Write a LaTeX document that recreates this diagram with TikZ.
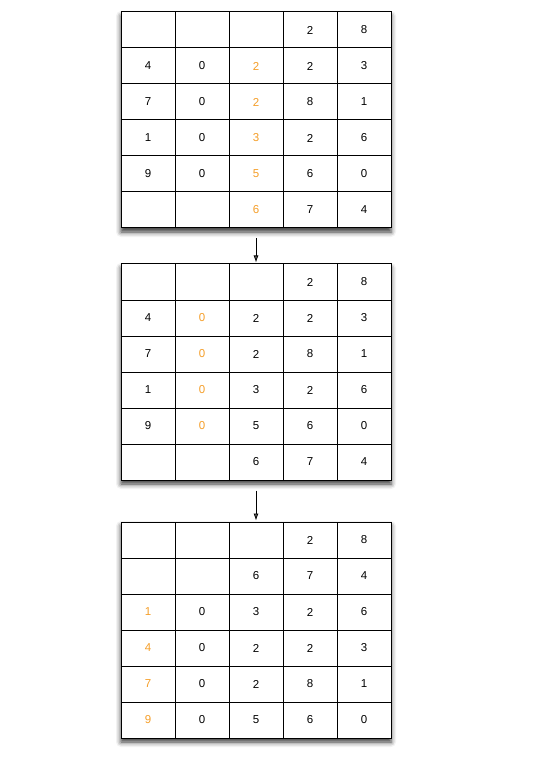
\documentclass[tikz,border=0pt]{standalone}
\usepackage{fontspec}
\setmainfont{Liberation Sans}
\usetikzlibrary{shadows.blur,arrows.meta}
\definecolor{hlorange}{RGB}{245,158,40}
\newcommand\hlc[1]{\textcolor{hlorange}{#1}}
\tikzset{
  cell/.style={draw=black, line width=1pt, minimum width=54pt, minimum height=36pt, inner sep=0pt, font=\fontsize{11.5}{13}\selectfont},
  tablebg/.style={fill=white, blur shadow={shadow xshift=0pt, shadow yshift=-4pt, shadow blur radius=5pt, shadow opacity=80}},
  flow/.style={line width=0.8pt, -{Latex[length=7pt,width=5pt]}, shorten >=1pt}
}
\newcommand\cellrow[8]{%
  \node[cell] (#1-#2-1) at (148,#3) {#4};
  \node[cell] (#1-#2-2) at (202,#3) {#5};
  \node[cell] (#1-#2-3) at (256,#3) {#6};
  \node[cell] (#1-#2-4) at (310,#3) {#7};
  \node[cell] (#1-#2-5) at (364,#3) {#8};
}
\begin{document}
\begin{tikzpicture}[x=1pt,y=-1pt]
\useasboundingbox (0,0) rectangle (559,783);
% table 1
\path[tablebg] (121,12) rectangle (391,228);
\cellrow{t1}{1}{30}{}{}{}{2}{8}
\cellrow{t1}{2}{66}{4}{0}{\hlc{2}}{2}{3}
\cellrow{t1}{3}{102}{7}{0}{\hlc{2}}{8}{1}
\cellrow{t1}{4}{138}{1}{0}{\hlc{3}}{2}{6}
\cellrow{t1}{5}{174}{9}{0}{\hlc{5}}{6}{0}
\cellrow{t1}{6}{210}{}{}{\hlc{6}}{7}{4}
% table 2
\path[tablebg] (121,264) rectangle (391,480);
\cellrow{t2}{1}{282}{}{}{}{2}{8}
\cellrow{t2}{2}{318}{4}{\hlc{0}}{2}{2}{3}
\cellrow{t2}{3}{354}{7}{\hlc{0}}{2}{8}{1}
\cellrow{t2}{4}{390}{1}{\hlc{0}}{3}{2}{6}
\cellrow{t2}{5}{426}{9}{\hlc{0}}{5}{6}{0}
\cellrow{t2}{6}{462}{}{}{6}{7}{4}
% table 3
\path[tablebg] (121,522) rectangle (391,738);
\cellrow{t3}{1}{540}{}{}{}{2}{8}
\cellrow{t3}{2}{576}{}{}{6}{7}{4}
\cellrow{t3}{3}{612}{\hlc{1}}{0}{3}{2}{6}
\cellrow{t3}{4}{648}{\hlc{4}}{0}{2}{2}{3}
\cellrow{t3}{5}{684}{\hlc{7}}{0}{2}{8}{1}
\cellrow{t3}{6}{720}{\hlc{9}}{0}{5}{6}{0}
% arrows
\draw[flow] ([yshift=-10pt]t1-6-3.south) -- (t2-1-3.north);
\draw[flow] ([yshift=-10pt]t2-6-3.south) -- (t3-1-3.north);
\end{tikzpicture}
\end{document}
